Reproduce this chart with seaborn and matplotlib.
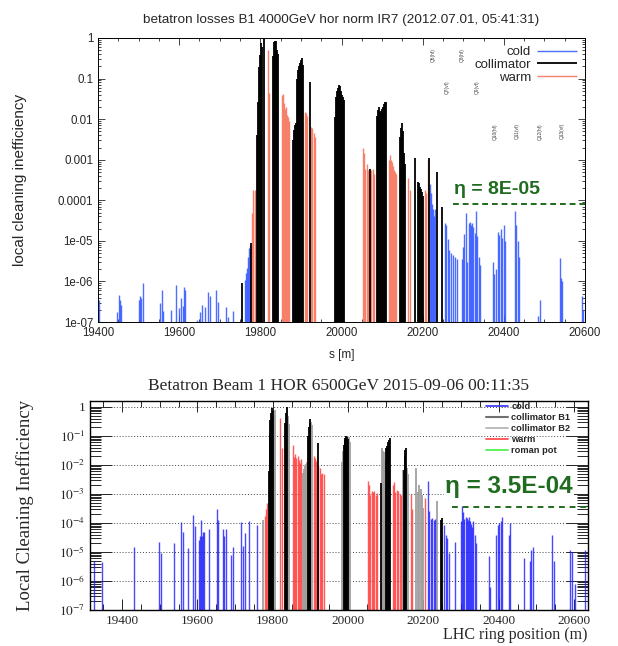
import numpy as np
import pandas as pd
import seaborn as sns
import matplotlib.pyplot as plt
from matplotlib.ticker import LogLocator, MultipleLocator, FuncFormatter, NullFormatter
from matplotlib.lines import Line2D

sns.set_theme(style="ticks")
plt.rcParams['font.family'] = ['Liberation Sans', 'DejaVu Sans']
plt.rcParams['mathtext.fontset'] = 'stix'

# ---------------- top panel: 2012, B1 4000 GeV ----------------
cold_t_s = [19402, 19447, 19452, 19454, 19457, 19501, 19503, 19506, 19511, 19553, 19558, 19560,
            19580, 19592, 19600, 19605, 19609, 19612, 19614, 19644, 19651, 19656, 19664, 19671,
            19676, 19691, 19696, 19715, 19720, 19733, 19762, 19765, 19767, 19770, 19772, 19775,
            20218, 20220, 20223, 20226, 20228, 20230, 20255, 20258, 20262, 20265, 20270, 20275,
            20280, 20284, 20297, 20300, 20303, 20306, 20310, 20313, 20316, 20319, 20322, 20325,
            20328, 20331, 20334, 20338, 20342, 20373, 20376, 20380, 20385, 20388, 20392, 20396,
            20400, 20403, 20428, 20431, 20434, 20437, 20484, 20488, 20538, 20541, 20544, 20593, 20595]
cold_t_v = [3.5e-7, 1.8e-7, 4.7e-7, 3.5e-7, 2.6e-7, 3.5e-7, 4.3e-7, 3.9e-7, 9.3e-7, 3.0e-7, 6.0e-7, 1.9e-7,
            2.0e-7, 8.0e-7, 2.2e-7, 3.9e-7, 2.5e-7, 7.5e-7, 6.3e-7, 1.1e-7, 1.8e-7, 2.6e-7, 2.4e-7, 5.6e-7,
            4.5e-7, 6.0e-7, 3.1e-7, 2.3e-7, 1.3e-7, 1.9e-7, 1.1e-6, 1.6e-6, 2.2e-6, 4.0e-6, 6.5e-6, 7.5e-6,
            2.5e-4, 1.5e-4, 8e-5, 6e-5, 4e-5, 6e-5, 2.7e-5, 2.4e-5, 1.1e-5, 6e-6, 5e-6, 4.5e-6,
            4e-6, 3.5e-6, 3.5e-6, 7e-6, 1.5e-5, 5e-5, 3e-6, 2.7e-5, 2.9e-5, 2.5e-5, 2.7e-5, 2.2e-5,
            1.6e-5, 5.5e-5, 1.3e-5, 4e-6, 2.5e-6, 3e-6, 1.5e-6, 2e-6, 1.7e-5, 1.4e-5, 2.0e-5, 1.2e-5,
            2.5e-5, 1.0e-5, 5.5e-5, 2.5e-5, 1e-5, 4e-6, 1.4e-7, 3.5e-7, 3.7e-6, 1.2e-6, 1.0e-6, 4.5e-7, 2e-7]

coll_t_s = [19755, 19777, 19792, 19794, 19797, 19799, 19802, 19804, 19809, 19831, 19834, 19836,
            19839, 19841, 19844, 19880, 19882, 19885, 19887, 19890, 19892, 19895, 19898, 19900,
            19902, 19904, 19922, 19984, 19987, 19989, 19991, 19994, 19996, 19999, 20001, 20004,
            20006, 20070, 20087, 20089, 20092, 20094, 20097, 20099, 20102, 20104, 20107, 20109,
            20144, 20146, 20149, 20151, 20154, 20156, 20181, 20188, 20191, 20193, 20196, 20198,
            20201, 20216, 20235, 20248]
coll_t_v = [9e-7, 9e-6, 4e-3, 0.026, 0.19, 0.38, 0.75, 0.6, 1.0, 0.35, 0.8, 0.85,
            0.85, 0.5, 0.4, 3e-3, 5.4e-3, 7e-3, 8e-3, 0.1, 0.16, 0.2, 0.24, 0.28,
            0.32, 0.22, 0.083, 0.011, 0.035, 0.05, 0.06, 0.07, 0.065, 0.05, 0.04, 0.035,
            0.03, 6e-4, 0.012, 0.017, 0.02, 0.015, 0.016, 0.018, 0.02, 0.024, 0.026, 0.026,
            3.7e-3, 6e-3, 8e-3, 5e-3, 1.5e-3, 8e-4, 1.1e-3, 2.8e-4, 2.6e-4, 2.1e-4, 1.9e-4, 1.6e-4,
            1.3e-4, 1.1e-3, 5e-4, 7e-5]

warm_t_s = [19780, 19783, 19786, 19819, 19821, 19853, 19856, 19858, 19861, 19863, 19866, 19868,
            19871, 19910, 19913, 19916, 19925, 19928, 19931, 19934, 20053, 20056, 20058, 20063,
            20066, 20073, 20078, 20080, 20100, 20117, 20119, 20122, 20124, 20127, 20129, 20132,
            20134, 20164, 20169, 20206, 20209, 20214]
warm_t_v = [5e-5, 1.8e-4, 1.8e-4, 0.5, 0.045, 0.04, 0.042, 0.025, 0.018, 0.02, 0.013, 0.011,
            0.009, 0.015, 0.014, 0.012, 6.5e-3, 6e-3, 4.5e-3, 3.7e-3, 2e-3, 1.5e-3, 6e-4, 8e-4,
            5.5e-4, 5.5e-4, 6e-4, 4.5e-4, 0.018, 1e-3, 1.3e-3, 1e-3, 9e-4, 7e-4, 5.5e-4, 5e-4,
            4.5e-4, 3.5e-4, 1.8e-4, 1.8e-4, 1.5e-4, 1.0e-3]

q_names = ["Q6(hf)", "Q8(hf)", "Q7(vf)", "Q9(vf)", "Q10(hf)", "Q11(vf)", "Q12(hf)", "Q13(vf)"]
q_s = [20225, 20297, 20260, 20334, 20378, 20432, 20489, 20543]
q_y = [0.38, 0.38, 0.062, 0.062, 5e-3, 5e-3, 5e-3, 5e-3]

eta_top = 8e-5
eta_top_from = 20275

# ---------------- bottom panel: 2015, B1 6500 GeV ----------------
cold_b_s = [19325, 19347, 19432, 19498, 19503, 19538, 19556, 19562, 19575, 19588, 19594, 19604,
            19607, 19610, 19612, 19615, 19618, 19631, 19652, 19655, 19668, 19672, 19676, 19689,
            19695, 19716, 19721, 19726, 19737, 19758, 20212, 20215, 20219, 20223, 20228, 20232,
            20255, 20259, 20263, 20267, 20284, 20300, 20303, 20306, 20309, 20312, 20315, 20318,
            20320, 20323, 20326, 20329, 20332, 20336, 20340, 20375, 20378, 20393, 20397, 20401,
            20405, 20410, 20428, 20431, 20468, 20483, 20487, 20491, 20542, 20546, 20590, 20594,
            20603, 20629]
cold_b_v = [5e-6, 4.5e-6, 1.5e-5, 2.2e-5, 9e-6, 2e-5, 1.07e-4, 5e-5, 1.4e-5, 1.9e-4, 8e-5, 2.5e-5,
            3.5e-5, 1.3e-4, 3.5e-5, 5e-5, 5e-5, 6e-5, 3e-4, 1.3e-4, 6e-5, 3.5e-5, 6e-5, 8e-6,
            1.5e-5, 1.1e-4, 1.6e-5, 4.5e-5, 1.2e-4, 8.5e-5, 2.8e-3, 2.5e-4, 1.4e-4, 1.5e-4, 1.3e-4, 1.4e-4,
            8.5e-5, 4e-5, 3e-5, 9e-6, 2.2e-5, 1.2e-4, 3.9e-4, 2.3e-4, 1.4e-4, 1.6e-4, 1.5e-4, 1.3e-4,
            1.55e-4, 1.2e-4, 9e-5, 7.5e-5, 1.2e-4, 4e-5, 2e-5, 7e-6, 6e-7, 4e-5, 8.5e-5, 1e-4,
            1.2e-4, 1.6e-4, 4e-5, 1e-4, 6e-6, 5e-6, 1.2e-5, 1.5e-5, 4e-5, 5e-6, 1.2e-5, 1e-5,
            8e-7, 1.2e-5]

coll_b1_s = [19790, 19792, 19794, 19796, 19798, 19800, 19833, 19835, 19837, 19894, 19896, 19898,
             19900, 19920, 19989, 19991, 19993, 19995, 19997, 19999, 20088, 20101, 20104, 20107,
             20110, 20112, 20148, 20150, 20152, 20154, 20247, 20250]
coll_b1_v = [6e-3, 0.12, 0.35, 0.6, 0.9, 0.7, 0.28, 0.6, 1.0, 0.1, 0.2, 0.27,
             0.4, 0.057, 0.05, 0.07, 0.085, 0.1, 0.09, 0.08, 2.3e-3, 0.039, 0.045, 0.06,
             0.072, 0.085, 6.7e-3, 0.02, 0.033, 0.039, 1.3e-4, 1.5e-4]

coll_b2_s = [19774, 19804, 19806, 19839, 19841, 19843, 19880, 19883, 19886, 19889, 19891, 19903,
             19905, 19984, 19986, 20002, 20004, 20090, 20093, 20096, 20098, 20146, 20156, 20158,
             20181, 20186, 20189, 20193, 20196, 20200, 20236]
coll_b2_v = [1.3e-4, 0.5, 0.8, 0.9, 0.5, 0.25, 5.2e-3, 7e-3, 9e-3, 0.011, 0.0126, 0.3,
             0.23, 0.0126, 0.03, 0.09, 0.06, 0.039, 0.03, 0.027, 0.015, 6.7e-3, 8e-3, 5e-3,
             8e-3, 1.2e-3, 2e-3, 1.5e-3, 9e-4, 3.3e-4, 5.7e-4]

warm_b_s = [19779, 19783, 19785, 19819, 19825, 19854, 19857, 19860, 19863, 19866, 19869, 19872,
            19875, 19910, 19913, 19916, 19920, 19926, 19929, 19932, 19936, 20053, 20056, 20059,
            20063, 20066, 20070, 20074, 20078, 20120, 20123, 20126, 20130, 20134, 20138, 20141,
            20167, 20171, 20205]
warm_b_v = [1.8e-4, 3e-4, 4.9e-4, 0.42, 0.04, 0.049, 0.019, 0.024, 0.017, 0.02, 0.015, 0.012,
            0.016, 0.02, 0.018, 0.014, 0.01, 8e-3, 5e-3, 5.5e-3, 5e-3, 2.8e-3, 2.1e-3, 9e-4,
            1.3e-3, 1.2e-3, 1.3e-3, 9e-4, 1.1e-3, 2.1e-3, 2.6e-3, 1.2e-3, 1.4e-3, 1.3e-3, 1.0e-3, 9e-4,
            1e-3, 3e-4, 7e-4]

roman_b_s = []
roman_b_v = []

eta_bot = 3.5e-4
eta_bot_from = 20276

floor = 1e-7
green = "#1f6b1f"

fig = plt.figure(figsize=(6.18, 6.46), dpi=100)
ax1 = fig.add_axes([0.1586, 0.5015, 0.788, 0.4397])
ax2 = fig.add_axes([0.1456, 0.0557, 0.8058, 0.3235])

# ---------- top ----------
sans = ['Liberation Sans', 'DejaVu Sans']
ax1.set_yscale('log')
h_cold = ax1.vlines(cold_t_s, floor, cold_t_v, color="#2f55ff", lw=1.0, alpha=0.85, label="cold")
h_warm = ax1.vlines(warm_t_s, floor, warm_t_v, color="#f7806a", lw=1.0, label="warm")
h_coll = ax1.vlines(coll_t_s, floor, coll_t_v, color="black", lw=1.3, label="collimator")
sns.lineplot(x=[eta_top_from, 20600], y=[eta_top, eta_top], ax=ax1, color=green,
             lw=1.4, linestyle=(0, (3, 2)))
ax1.text(eta_top_from + 3, eta_top * 2.3, f"η = {eta_top:.0E}", color=green, fontsize=14,
         fontweight='bold', va='center', ha='left', family=sans)
for name, s, y in zip(q_names, q_s, q_y):
    ax1.text(s, y, name, rotation=90, fontsize=3.5, color="#444444", ha='center', va='center')

ax1.set_xlim(19400, 20600)
ax1.set_ylim(floor, 1)
ax1.xaxis.set_major_locator(MultipleLocator(200))
ax1.xaxis.set_minor_locator(MultipleLocator(50))
ax1.yaxis.set_major_locator(LogLocator(base=10, numticks=12))
ax1.yaxis.set_minor_locator(LogLocator(base=10, subs=np.arange(2, 10), numticks=12))
ax1.yaxis.set_minor_formatter(NullFormatter())
ax1.yaxis.set_major_formatter(FuncFormatter(lambda v, p: f"{v:g}"))
ax1.tick_params(which='both', direction='in', top=True, right=True, labelsize=8.3, width=0.6)
ax1.tick_params(which='major', length=5)
ax1.tick_params(which='minor', length=2.5)
for sp in ax1.spines.values():
    sp.set_linewidth(0.7)
    sp.set_color('black')
ax1.set_xlabel("s [m]", fontsize=8.5, family=sans)
ax1.xaxis.set_label_coords(0.5, -0.095)
ax1.set_ylabel("local cleaning inefficiency", fontsize=11, family=sans)
ax1.yaxis.set_label_coords(-0.146, 0.5)
ax1.set_title("betatron losses B1 4000GeV hor norm IR7 (2012.07.01, 05:41:31)", fontsize=9.7,
              pad=11, family=sans)
leg1 = ax1.legend(handles=[h_cold, h_coll, h_warm], loc='upper right', frameon=False,
                  markerfirst=False, fontsize=9.5, handlelength=3.0, labelspacing=0.05,
                  handletextpad=0.5, borderaxespad=0.2)
for col in leg1._legend_box.get_children()[1].get_children():
    col.align = "right"

# ---------- bottom ----------
serif = ['Liberation Serif', 'DejaVu Serif']
ax2.set_yscale('log')
ax2.vlines(coll_b2_s, floor, coll_b2_v, color="#a0a0a0", lw=1.3)
ax2.vlines(warm_b_s, floor, warm_b_v, color="#ff4040", lw=1.0, alpha=0.85)
ax2.vlines(coll_b1_s, floor, coll_b1_v, color="black", lw=1.3)
ax2.vlines(cold_b_s, floor, cold_b_v, color="#1a1aff", lw=1.0, alpha=0.8)
ax2.vlines(roman_b_s, floor, roman_b_v, color="#33dd33", lw=1.0)
sns.lineplot(x=[eta_bot_from, 20640], y=[eta_bot, eta_bot], ax=ax2, color=green,
             lw=1.4, linestyle=(0, (3, 2.5)))
ax2.text(eta_bot_from - 18, eta_bot * 5, f"η = {eta_bot:.1E}", color=green, fontsize=17.5,
         fontweight='bold', va='center', ha='left', family=sans,
         bbox=dict(facecolor='white', edgecolor='none', pad=0.5))

ax2.set_xlim(19315, 20637)
ax2.set_ylim(floor, 1.6)
ax2.yaxis.grid(True, which='major', linestyle=(0, (1, 2)), color='#444444', lw=0.7)
ax2.xaxis.set_major_locator(MultipleLocator(200))
ax2.xaxis.set_minor_locator(MultipleLocator(50))
ax2.yaxis.set_major_locator(LogLocator(base=10, numticks=12))
ax2.yaxis.set_minor_locator(LogLocator(base=10, subs=np.arange(2, 10), numticks=12))
ax2.yaxis.set_minor_formatter(NullFormatter())
ax2.yaxis.set_major_formatter(FuncFormatter(
    lambda v, p: "1" if round(np.log10(v)) == 0 else rf"$10^{{{int(round(np.log10(v)))}}}$"))
ax2.tick_params(which='both', direction='in', top=True, right=True, labelsize=9.5, width=0.7)
ax2.tick_params(axis='x', which='major', length=8)
ax2.tick_params(axis='x', which='minor', length=4)
ax2.tick_params(axis='y', which='major', length=16)
ax2.tick_params(axis='y', which='minor', length=8)
for lab in ax2.get_xticklabels() + ax2.get_yticklabels():
    lab.set_family(serif)
for sp in ax2.spines.values():
    sp.set_linewidth(1.0)
    sp.set_color('black')
ax2.set_xlabel("LHC ring position (m)", fontsize=11.5, family=serif, loc='right')
ax2.xaxis.set_label_coords(1.0, -0.08)
ax2.set_ylabel("Local Cleaning Inefficiency", fontsize=13.5, family=serif)
ax2.yaxis.set_label_coords(-0.112, 0.5)
ax2.set_title("Betatron Beam 1 HOR 6500GeV 2015-09-06 00:11:35", fontsize=12.5, family=serif, pad=8)
leg_handles = [Line2D([], [], color="#3030ff", lw=1.2),
               Line2D([], [], color="#707070", lw=1.5),
               Line2D([], [], color="#b0b0b0", lw=1.2),
               Line2D([], [], color="#ff4040", lw=1.2),
               Line2D([], [], color="#44ee44", lw=1.2)]
ax2.legend(leg_handles, ["cold", "collimator B1", "collimator B2", "warm", "roman pot"],
           loc='upper left', bbox_to_anchor=(0.778, 1.035), frameon=False,
           prop={'family': sans, 'weight': 'bold', 'size': 6.7}, handlelength=2.4,
           labelspacing=0.22, handletextpad=0.35)

fig.savefig("out.png", dpi=100)
